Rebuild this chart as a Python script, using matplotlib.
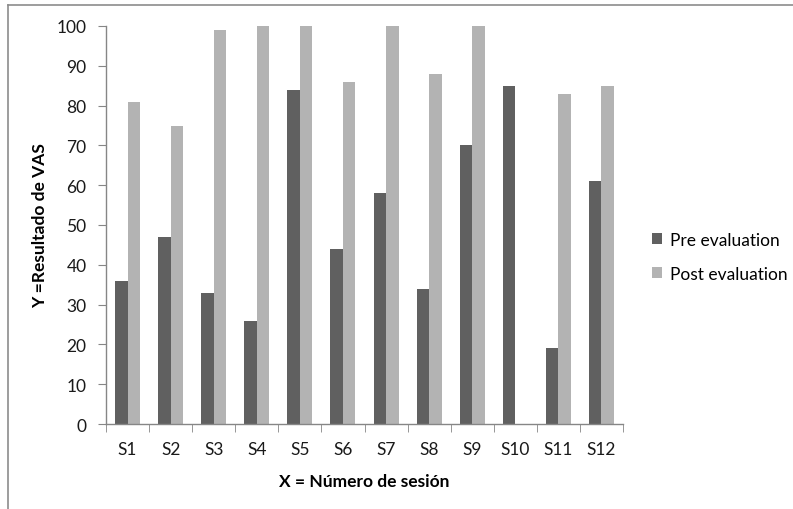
import numpy as np
import matplotlib.pyplot as plt
from matplotlib.lines import Line2D

sessions = ["S1", "S2", "S3", "S4", "S5", "S6", "S7", "S8", "S9", "S10", "S11", "S12"]
pre_eval = [36, 47, 33, 26, 84, 44, 58, 34, 70, 85, 19, 61]
post_eval = [81, 75, 99, 100, 100, 86, 100, 88, 100, 0, 83, 85]


def main():
    plt.rcParams['font.family'] = ['Lato', 'DejaVu Sans']
    fig = plt.figure(figsize=(7.93, 5.10), dpi=100)
    W, H = 793, 510
    # axes box in pixels: left 106, right 623, top 27, bottom 425
    ax = fig.add_axes([106 / W, 1 - 425 / H, (623 - 106) / W, (425 - 27) / H])

    # outer frame (only top and left visible, like the cropped screenshot)
    fig.add_artist(Line2D([8 / W, 8 / W], [0, 1 - 6 / H], transform=fig.transFigure,
                          color="#8c8c8c", lw=1.2))
    fig.add_artist(Line2D([8 / W, 1], [1 - 6 / H, 1 - 6 / H], transform=fig.transFigure,
                          color="#8c8c8c", lw=1.2))

    x_pos = np.arange(len(sessions))
    width = 0.29
    ax.bar(x_pos - width / 2, pre_eval, width, color="#606060", label="Pre evaluation")
    ax.bar(x_pos + width / 2, post_eval, width, color="#b3b3b3", label="Post evaluation")

    ax.set_xlim(-0.5, len(sessions) - 0.5)
    ax.set_ylim(0, 100)
    ax.set_yticks(range(0, 101, 10))
    ax.set_xticks(x_pos)
    ax.set_xticklabels(sessions)
    ax.set_xticks(np.arange(-0.5, len(sessions)), minor=True)

    for s in ["top", "right"]:
        ax.spines[s].set_visible(False)
    for s in ["left", "bottom"]:
        ax.spines[s].set_color("#868686")
        ax.spines[s].set_linewidth(1.0)

    fs = 12.5
    ax.tick_params(axis="x", which="major", length=0, pad=12, labelsize=fs, colors="#1a1a1a")
    ax.tick_params(axis="x", which="minor", length=6, color="#868686", direction="out")
    ax.tick_params(axis="y", length=6, color="#868686", direction="out", pad=8,
                   labelsize=fs, labelcolor="#1a1a1a")

    ax.set_xlabel("X = Número de sesión", fontsize=fs, fontweight="bold", labelpad=12)
    ax.set_ylabel("Y =Resultado de VAS", fontsize=fs, fontweight="bold", labelpad=6)

    ax.legend(loc="center left", bbox_to_anchor=(1.025, 0.42), frameon=False,
              fontsize=fs, handlelength=0.6, handleheight=0.6, handletextpad=0.45,
              labelspacing=1.05)

    fig.savefig("out.png", dpi=100)


if __name__ == "__main__":
    main()
